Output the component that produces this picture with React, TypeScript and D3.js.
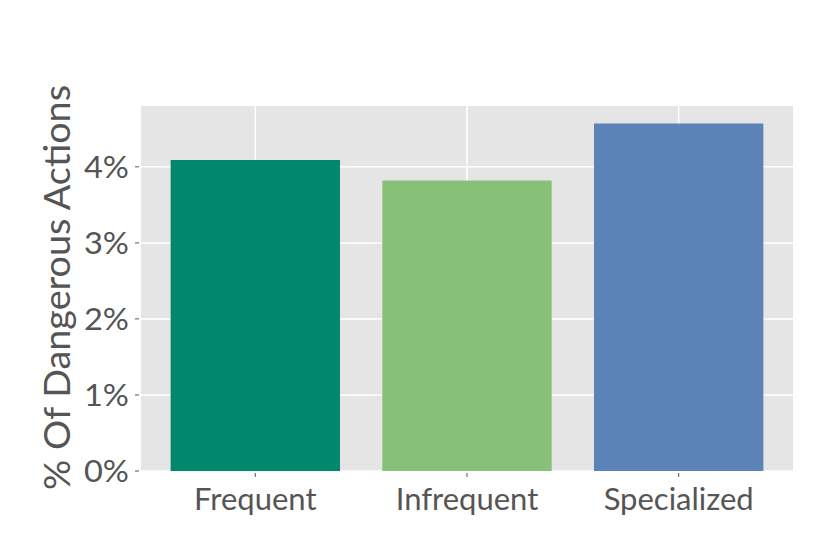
import React from "react";
import * as d3 from "d3";

const categories = ["Frequent", "Infrequent", "Specialized"];
const values = [4.09, 3.82, 4.57];
const colors = ["#00876c", "#89c079", "#5b83b8"];
const yTicks = [0, 1, 2, 3, 4];
const yLabel = "% Of Dangerous Actions";

const W = 830, H = 554;
const left = 141, right = 793, top = 106, bottom = 471;
const font = "Lato, 'Open Sans', sans-serif";

export default function App() {
  const x = d3.scaleLinear().domain([-0.54, 2.54]).range([left, right]);
  const y = d3.scaleLinear().domain([0, 4.8]).range([bottom, top]);
  const bw = x(0.8) - x(0);
  return (
    <svg width={W} height={H} style={{ position: "absolute", left: 0, top: 0 }}>
      <rect x={0} y={0} width={W} height={H} fill="#fff" />
      <rect x={left} y={top} width={right - left} height={bottom - top} fill="#e5e5e5" />
      {yTicks.map((t) => (
        <line key={"gy" + t} x1={left} x2={right} y1={y(t)} y2={y(t)} stroke="#fff" strokeWidth={1.5} />
      ))}
      {categories.map((c, i) => (
        <line key={"gx" + c} x1={x(i)} x2={x(i)} y1={top} y2={bottom} stroke="#fff" strokeWidth={1.5} />
      ))}
      {categories.map((c, i) => (
        <rect key={c} x={x(i) - bw / 2} y={y(values[i])} width={bw} height={y(0) - y(values[i])} fill={colors[i]} />
      ))}
      {yTicks.map((t) => (
        <g key={"ty" + t}>
          <line x1={left - 6} x2={left - 2} y1={y(t)} y2={y(t)} stroke="#555" strokeWidth={1} />
          <text x={left - 12} y={y(t)} dy="0.36em" textAnchor="end" fontFamily={font} fontWeight={400} fontSize={31} fill="#555" textLength={45} lengthAdjust="spacingAndGlyphs">
            {t}%
          </text>
        </g>
      ))}
      {categories.map((c, i) => (
        <g key={"tx" + c}>
          <line x1={x(i)} x2={x(i)} y1={bottom + 2} y2={bottom + 6} stroke="#555" strokeWidth={1} />
          <text x={x(i)} y={bottom + 39} textAnchor="middle" fontFamily={font} fontWeight={400} fontSize={31} fill="#555">
            {c}
          </text>
        </g>
      ))}
      <text
        transform={`translate(70, ${(85 + 490) / 2}) rotate(-90)`}
        textAnchor="middle"
        fontFamily={font}
        fontWeight={400}
        fontSize={37}
        fill="#555"
        textLength={405}
        lengthAdjust="spacingAndGlyphs"
      >
        {yLabel}
      </text>
    </svg>
  );
}
